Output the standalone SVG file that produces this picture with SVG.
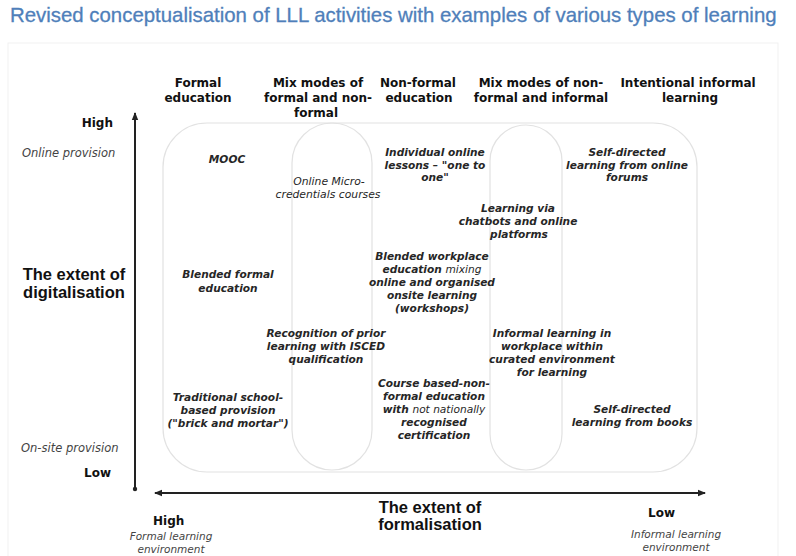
<svg xmlns="http://www.w3.org/2000/svg" width="796" height="556" viewBox="0 0 796 556">
<defs>
<style>
.title{font-family:"Liberation Sans",Arial,sans-serif;font-size:20.4px;fill:#4f7fba;stroke:#4f7fba;stroke-width:0.3}
.hdr{font-family:"DejaVu Sans",sans-serif;font-weight:bold;font-size:12px;fill:#111;text-anchor:middle}
.node{font-family:"DejaVu Sans",sans-serif;font-weight:bold;font-style:italic;font-size:10.6px;fill:#262626;text-anchor:middle}
.nodel{font-family:"DejaVu Sans",sans-serif;font-style:italic;font-size:10.8px;fill:#262626;text-anchor:middle}
.ax{font-family:"Liberation Sans",Arial,sans-serif;font-weight:bold;font-size:16.5px;fill:#111;text-anchor:middle}
.lvl{font-family:"DejaVu Sans",sans-serif;font-weight:bold;font-size:12px;fill:#111}
.sub{font-family:"DejaVu Sans",sans-serif;font-style:italic;font-size:11.5px;fill:#444}
.subs{font-family:"DejaVu Sans",sans-serif;font-style:italic;font-size:10.5px;fill:#444;text-anchor:middle}
.zone{fill:none;stroke:#e2e2e2;stroke-width:1.2}
.axis{stroke:#222;stroke-width:2;fill:none}
</style>
<marker id="arr" viewBox="0 0 8 8" refX="7" refY="4" markerWidth="8" markerHeight="8" markerUnits="userSpaceOnUse" orient="auto-start-reverse">
<path d="M0,0.8 L8,4 L0,7.2 z" fill="#222"/>
</marker>
</defs>
<rect width="796" height="556" fill="#ffffff"/>
<rect x="8" y="43" width="770" height="530" fill="none" stroke="#f1f1f1" stroke-width="1"/>
<text class="title" x="10" y="22">Revised conceptualisation of LLL activities with examples of various types of learning</text>

<g id="zones">
<rect class="zone" x="163" y="123" width="534" height="349" rx="44" ry="44"/>
<rect class="zone" x="292" y="123" width="80" height="347" rx="40" ry="40"/>
<rect class="zone" x="490" y="125" width="72" height="345" rx="36" ry="36"/>
</g>

<g id="headers">
<text class="hdr" x="198" y="87">Formal</text>
<text class="hdr" x="198" y="102">education</text>
<text class="hdr" x="318" y="87">Mix modes of</text>
<text class="hdr" x="318" y="102">formal and non-</text>
<text class="hdr" x="316" y="117">formal</text>
<text class="hdr" x="418" y="87">Non-formal</text>
<text class="hdr" x="419" y="102">education</text>
<text class="hdr" x="541" y="87">Mix modes of non-</text>
<text class="hdr" x="541" y="102">formal and informal</text>
<text class="hdr" x="688" y="87">Intentional informal</text>
<text class="hdr" x="690" y="102">learning</text>
</g>

<g id="axes">
<line class="axis" x1="135" y1="489" x2="135" y2="113" marker-end="url(#arr)"/>
<circle cx="135" cy="489" r="2.2" fill="#222"/>
<line class="axis" x1="155" y1="493" x2="705" y2="493" marker-start="url(#arr)" marker-end="url(#arr)"/>
</g>

<g id="axis-labels">
<text class="lvl" x="113" y="127" text-anchor="end">High</text>
<text class="sub" x="22" y="157">Online provision</text>
<text class="ax" x="74" y="280">The extent of</text>
<text class="ax" x="74" y="298">digitalisation</text>
<text class="sub" x="21" y="452">On-site provision</text>
<text class="lvl" x="111" y="477" text-anchor="end">Low</text>
<text class="lvl" x="153" y="525">High</text>
<text class="subs" x="171" y="540">Formal learning<tspan x="171" dy="12.8">environment</tspan></text>
<text class="ax" x="430" y="513">The extent of</text>
<text class="ax" x="430" y="530">formalisation</text>
<text class="lvl" x="648" y="517">Low</text>
<text class="subs" x="676" y="538">Informal learning<tspan x="676" dy="12.8">environment</tspan></text>
</g>

<g id="n-mooc"><text class="node" x="227" y="163">MOOC</text></g>
<g id="n-micro">
<text class="nodel" x="329" y="185">Online Micro-</text>
<text class="nodel" x="328" y="198">credentials courses</text>
</g>
<g id="n-individual">
<text class="node" x="435" y="156">Individual online</text>
<text class="node" x="435" y="169">lessons – "one to</text>
<text class="node" x="435" y="181">one"</text>
</g>
<g id="n-selfonline">
<text class="node" x="627" y="156">Self-directed</text>
<text class="node" x="627" y="169">learning from online</text>
<text class="node" x="627" y="181">forums</text>
</g>
<g id="n-chatbots">
<text class="node" x="518" y="212">Learning via</text>
<text class="node" x="518" y="225">chatbots and online</text>
<text class="node" x="519" y="238">platforms</text>
</g>
<g id="n-blendedformal">
<text class="node" x="228" y="278">Blended  formal</text>
<text class="node" x="228" y="292">education</text>
</g>
<g id="n-blendedworkplace">
<text class="node" x="432" y="260">Blended workplace</text>
<text class="node" x="432" y="273">education <tspan font-weight="normal">mixing</tspan></text>
<text class="node" x="432" y="286">online and organised</text>
<text class="node" x="432" y="299">onsite learning</text>
<text class="node" x="432" y="312">(workshops)</text>
</g>
<g id="n-recognition">
<text class="node" x="326" y="337">Recognition of prior</text>
<text class="node" x="326" y="350">learning with ISCED</text>
<text class="node" x="326" y="363">qualification</text>
</g>
<g id="n-informalworkplace">
<text class="node" x="552" y="337">Informal learning in</text>
<text class="node" x="552" y="350">workplace within</text>
<text class="node" x="552" y="363">curated environment</text>
<text class="node" x="552" y="376">for learning</text>
</g>
<g id="n-traditional">
<text class="node" x="228" y="401">Traditional school-</text>
<text class="node" x="228" y="414">based provision</text>
<text class="node" x="228" y="427">("brick and mortar")</text>
</g>
<g id="n-course">
<text class="node" x="434" y="387">Course based-non-</text>
<text class="node" x="434" y="400">formal education</text>
<text class="node" x="434" y="413">with <tspan font-weight="normal">not nationally</tspan></text>
<text class="node" x="434" y="426">recognised</text>
<text class="node" x="434" y="439">certification</text>
</g>
<g id="n-books">
<text class="node" x="632" y="413">Self-directed</text>
<text class="node" x="632" y="426">learning from books</text>
</g>
</svg>
